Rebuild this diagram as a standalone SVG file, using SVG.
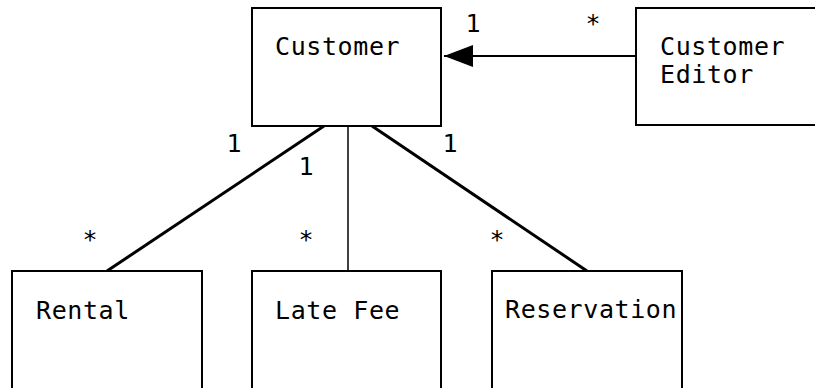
<svg xmlns="http://www.w3.org/2000/svg" width="815" height="388" viewBox="0 0 815 388">
<style>
.box{fill:#fff;stroke:#000;stroke-width:2}
.t{font-family:"DejaVu Sans Mono","Liberation Mono",monospace;font-size:25px;letter-spacing:0.6px;fill:#000}
.m{font-family:"DejaVu Sans Mono","Liberation Mono",monospace;font-size:25px;fill:#000;text-anchor:middle}
.c{stroke:#000;fill:none}
</style>
<defs>
<marker id="arr" markerUnits="userSpaceOnUse" markerWidth="30" markerHeight="22" refX="29" refY="11" orient="auto">
<path d="M0,0 L29,11 L0,22 Z" fill="#000"/>
</marker>
</defs>
<rect width="815" height="388" fill="#fff"/>
<g id="connectors">
<line class="c" x1="636" y1="56" x2="444" y2="56" stroke-width="2" marker-end="url(#arr)"/>
<line class="c" x1="324" y1="126" x2="107" y2="271" stroke-width="3"/>
<line class="c" x1="348" y1="126" x2="348" y2="271" stroke-width="1.5"/>
<line class="c" x1="372" y1="126" x2="587" y2="271" stroke-width="3"/>
<text class="m" x="473" y="32">1</text>
<text class="m" x="593" y="32">*</text>
<text class="m" x="234" y="152">1</text>
<text class="m" x="306" y="175">1</text>
<text class="m" x="450" y="152">1</text>
<text class="m" x="90" y="248">*</text>
<text class="m" x="306" y="248">*</text>
<text class="m" x="497" y="248">*</text>
</g>
<g id="customer">
<rect class="box" x="252" y="8" width="189" height="118"/>
<text class="t" x="275" y="55">Customer</text>
</g>
<g id="customer-editor">
<rect class="box" x="636" y="8" width="200" height="117"/>
<text class="t" x="660" y="55">Customer</text>
<text class="t" x="660" y="83">Editor</text>
</g>
<g id="rental">
<rect class="box" x="12" y="271" width="190" height="140"/>
<text class="t" x="36" y="319">Rental</text>
</g>
<g id="late-fee">
<rect class="box" x="252" y="271" width="189" height="140"/>
<text class="t" x="275" y="319">Late Fee</text>
</g>
<g id="reservation">
<rect class="box" x="492" y="271" width="190" height="140"/>
<text class="t" x="505" y="318">Reservation</text>
</g>
</svg>
